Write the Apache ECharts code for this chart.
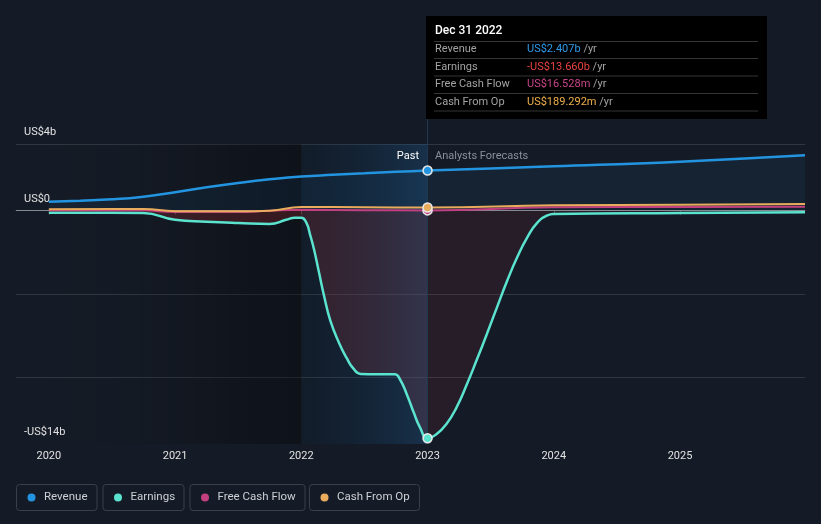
<!DOCTYPE html>
<html><head><meta charset="utf-8">
<script src="https://cdn.jsdelivr.net/npm/echarts@6/dist/echarts.min.js"></script>
<style>html,body{margin:0;padding:0;background:#151b26;}#c{width:821px;height:524px;}</style>
</head><body><div id="c"></div>
<script>
// ---- data (values in US$ billions, x in decimal years) ----
const xTickValues = [2020, 2021, 2022, 2023, 2024, 2025];
const xTickLabels = ['2020', '2021', '2022', '2023', '2024', '2025'];
const yTickValues = [-14, 0, 4];
const yTickLabels = ['-US$14b', 'US$0', 'US$4b'];
const gridValues = [-10, -5, 4];

const revenuePast = [[2020, 0.54], [2020.25, 0.6], [2020.5, 0.68], [2020.75, 0.84], [2021, 1.1], [2021.25, 1.4], [2021.5, 1.66], [2021.75, 1.88], [2022, 2.05], [2022.25, 2.15], [2022.5, 2.24], [2022.75, 2.33], [2023, 2.407]];
const revenueForecast = [[2023, 2.407], [2024, 2.66], [2025, 2.94], [2025.99, 3.32]];

const earningsPast = [[2020, -0.12], [2020.25, -0.12], [2020.5, -0.12], [2020.75, -0.14], [2021, -0.55], [2021.25, -0.66], [2021.5, -0.74], [2021.75, -0.8], [2021.88, -0.55], [2021.95, -0.42], [2022, -0.42], [2022.04, -0.72], [2022.07, -1.45], [2022.1, -2.3], [2022.14, -3.7], [2022.18, -5.1], [2022.23, -6.6], [2022.3, -7.95], [2022.36, -8.85], [2022.41, -9.45], [2022.47, -9.8], [2022.6, -9.82], [2022.74, -9.82], [2022.78, -10.1], [2022.84, -11.1], [2022.89, -12.1], [2022.94, -13.0], [2023, -13.66]];
const earningsForecast = [[2023, -13.66], [2023.07, -13.42], [2023.15, -12.8], [2023.23, -11.8], [2023.31, -10.45], [2023.39, -8.95], [2023.47, -7.4], [2023.55, -5.8], [2023.63, -4.22], [2023.71, -2.8], [2023.79, -1.6], [2023.87, -0.72], [2023.95, -0.28], [2024, -0.2], [2025, -0.14], [2025.99, -0.1]];

const fcfPast = [[2020, 0.02], [2020.5, 0.03], [2020.75, 0.02], [2021, -0.08], [2021.5, -0.08], [2021.75, 0.0], [2022, 0.05], [2022.5, 0.03], [2023, 0.0165]];
const fcfForecast = [[2023, 0.0165], [2024, 0.2], [2025, 0.22], [2025.99, 0.24]];

const cfoPast = [[2020, 0.08], [2020.5, 0.1], [2020.75, 0.1], [2021, -0.03], [2021.5, -0.03], [2021.75, 0.0], [2022, 0.22], [2022.5, 0.2], [2023, 0.189]];
const cfoForecast = [[2023, 0.189], [2024, 0.32], [2025, 0.36], [2025.99, 0.4]];

const tipTitle = 'Dec 31 2022';
const tipRows = [
  ['Revenue', 'US$2.407b', '#2f9be8'],
  ['Earnings', '-US$13.660b', '#e8433f'],
  ['Free Cash Flow', 'US$16.528m', '#c8458b'],
  ['Cash From Op', 'US$189.292m', '#f0b14d']
];
const legendNames = ['Revenue', 'Earnings', 'Free Cash Flow', 'Cash From Op'];
const seriesColors = ['#2394df', '#5ae3cf', '#c2407f', '#e9ab5c'];

// ---- chart ----
const FONT = 'Roboto, "Noto Sans", sans-serif';
const xMin = 2019.74, xMax = 2025.99, yMin = -14, yMax = 5.56;
const pastEnd = 2023, highlightStart = 2022, bandTop = 4;
const SMOOTH = 0.5;
const join = (a, b) => a.concat(b.slice(1));

function lineSeries(name, data, color, width, markerSize) {
  return {
    name, type: 'line', z: 4, smooth: SMOOTH, symbol: 'none', showSymbol: true,
    lineStyle: { color, width }, itemStyle: { color, borderColor: '#e8e8e8', borderWidth: 1.5 },
    data: data.map(p => p[0] === pastEnd ? { value: p, symbol: 'circle', symbolSize: markerSize } : { value: p }),
    silent: true, animation: false
  };
}
function areaSeries(data, color, extra) {
  return Object.assign({
    type: 'line', z: 2, smooth: SMOOTH, symbol: 'none', lineStyle: { width: 0 },
    areaStyle: { color }, data, silent: true, animation: false
  }, extra || {});
}

const chart = echarts.init(document.getElementById('c'), null, { renderer: 'canvas' });

const graphic = [];
// tooltip box
graphic.push({ type: 'rect', shape: { x: 426, y: 16, width: 341, height: 103 }, style: { fill: '#000' }, z: 100 });
graphic.push({ type: 'text', x: 435, y: 31, z: 101, style: { text: tipTitle, fill: '#ffffff', font: '500 12px ' + FONT, verticalAlign: 'middle' } });
[41.5, 58.5, 76, 93.5, 111].forEach(yy => graphic.push({ type: 'line', z: 101, shape: { x1: 434, y1: yy, x2: 758, y2: yy }, style: { stroke: '#353535', lineWidth: 1 } }));
[49.5, 67, 84.5, 102].forEach((yy, i) => {
  graphic.push({ type: 'text', x: 435, y: yy, z: 101, style: { text: tipRows[i][0], fill: '#a3a3a3', font: '11px ' + FONT, verticalAlign: 'middle' } });
  graphic.push({ type: 'text', x: 527, y: yy, z: 101, style: { text: '{v|' + tipRows[i][1] + '} {u|/yr}', verticalAlign: 'middle', font: '11px ' + FONT,
    rich: { v: { fill: tipRows[i][2], font: '11px ' + FONT }, u: { fill: '#a3a3a3', font: '11px ' + FONT } } } });
});
// past / forecast labels
graphic.push({ type: 'text', x: 419, y: 156, z: 50, style: { text: 'Past', fill: '#ffffff', font: '11px ' + FONT, align: 'right', verticalAlign: 'middle' } });
graphic.push({ type: 'text', x: 435, y: 156, z: 50, style: { text: 'Analysts Forecasts', fill: '#8a9099', font: '11px ' + FONT, verticalAlign: 'middle' } });
// legend
const legendBoxes = [[16.5, 80.5], [103, 81], [190, 115], [309.5, 110]];
legendBoxes.forEach((b, i) => {
  graphic.push({ type: 'rect', z: 50, shape: { x: b[0], y: 484.5, width: b[1], height: 26, r: 3 }, style: { fill: 'rgba(0,0,0,0)', stroke: '#3a404a', lineWidth: 1 } });
  graphic.push({ type: 'circle', z: 51, shape: { cx: b[0] + 15, cy: 497.5, r: 4 }, style: { fill: seriesColors[i] } });
  graphic.push({ type: 'text', z: 51, x: b[0] + 27.5, y: 497.5, style: { text: legendNames[i], fill: '#cdd0d4', font: '11.5px ' + FONT, verticalAlign: 'middle' } });
});

const darkGrad = new echarts.graphic.LinearGradient(0, 0, 1, 0, [
  { offset: 0, color: 'rgba(0,0,0,0)' }, { offset: 0.35, color: 'rgba(0,0,0,0.03)' }, { offset: 1, color: 'rgba(0,0,0,0.35)' }]);
const bandGrad = new echarts.graphic.LinearGradient(0, 0, 1, 0, [
  { offset: 0, color: 'rgba(0,40,70,0.12)' }, { offset: 1, color: 'rgba(30,95,150,0.32)' }]);

chart.setOption({
  backgroundColor: '#151b26',
  animation: false,
  textStyle: { fontFamily: FONT },
  grid: { left: 16, right: 16, top: 118, bottom: 80, containLabel: false },
  xAxis: {
    type: 'value', min: xMin, max: xMax,
    axisLine: { show: true, lineStyle: { color: '#434952', width: 1 } },
    axisTick: { show: true, customValues: xTickValues, length: 4, lineStyle: { color: '#4a5058' } },
    axisLabel: { customValues: xTickValues, formatter: v => xTickLabels[xTickValues.indexOf(v)], color: '#e2e2e2', fontSize: 11, margin: 7, fontFamily: FONT },
    splitLine: { show: false }
  },
  yAxis: {
    type: 'value', min: yMin, max: yMax,
    axisLine: { show: false },
    axisTick: { show: false, customValues: gridValues },
    axisLabel: { inside: true, customValues: yTickValues, formatter: v => yTickLabels[yTickValues.indexOf(v)], color: '#e2e2e2', fontSize: 11, margin: 8, verticalAlign: 'bottom', padding: [0, 0, 6, 0], fontFamily: FONT },
    splitLine: { show: true, lineStyle: { color: '#313741', width: 1 } }
  },
  graphic: graphic,
  series: [
    areaSeries(join(revenuePast, revenueForecast), 'rgba(35,148,223,0.1)', {
      markArea: { silent: true, z: 1, data: [[{ xAxis: xMin, yAxis: bandTop, itemStyle: { color: darkGrad } }, { xAxis: highlightStart, yAxis: yMin }]] }
    }),
    areaSeries(earningsPast, 'rgba(207,54,59,0.3)'),
    areaSeries(earningsForecast, 'rgba(207,54,59,0.14)', {
      markArea: { silent: true, z: 3, data: [[{ xAxis: highlightStart, yAxis: bandTop, itemStyle: { color: bandGrad } }, { xAxis: pastEnd, yAxis: yMin }]] },
      markLine: { silent: true, z: 3, symbol: 'none', label: { show: false },
        data: [{ xAxis: pastEnd, lineStyle: { color: '#20384d', width: 1, type: 'solid' } }, { yAxis: 0, lineStyle: { color: 'rgba(190,190,190,0.55)', width: 1, type: 'solid' } }] }
    }),
    lineSeries('Revenue', join(revenuePast, revenueForecast), seriesColors[0], 2.5, 9),
    lineSeries('Earnings', join(earningsPast, earningsForecast), seriesColors[1], 2.5, 9),
    lineSeries('Free Cash Flow', join(fcfPast, fcfForecast), seriesColors[2], 2, 9),
    lineSeries('Cash From Op', join(cfoPast, cfoForecast), seriesColors[3], 2, 9)
  ]
});
</script></body></html>
